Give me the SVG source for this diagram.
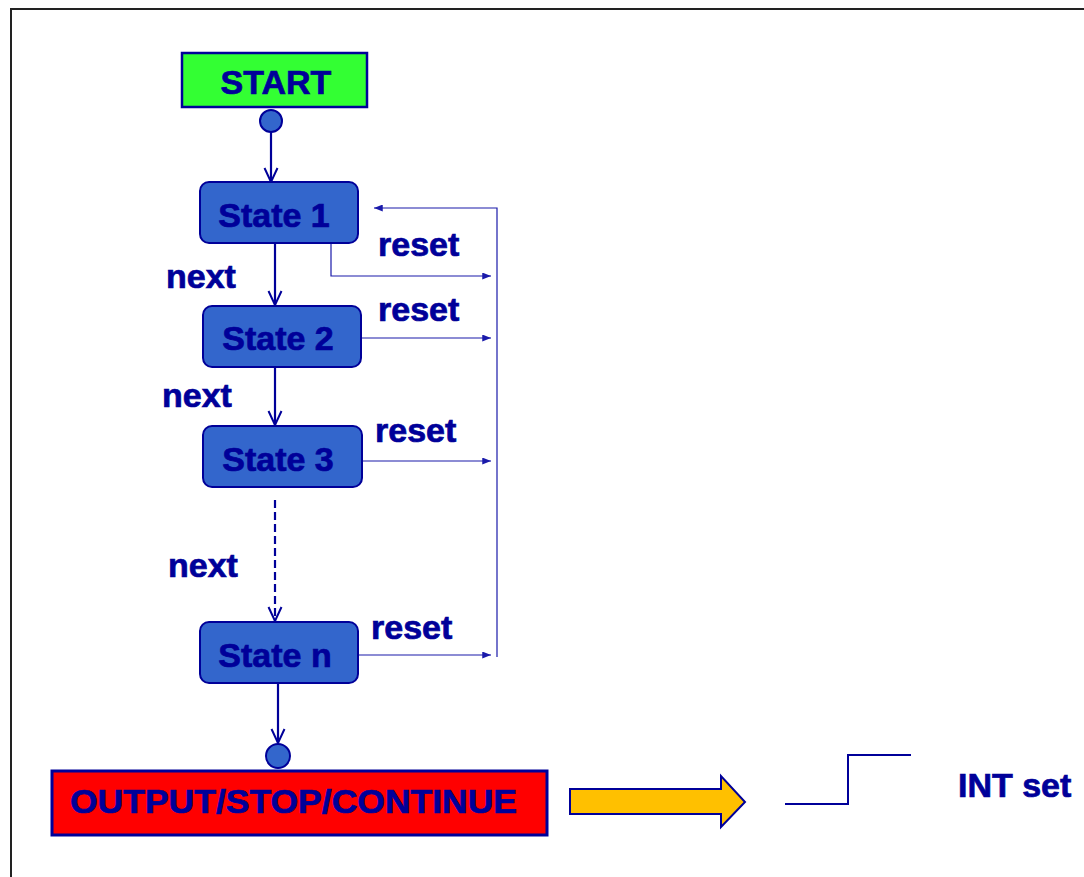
<svg xmlns="http://www.w3.org/2000/svg" width="1084" height="877" viewBox="0 0 1084 877">
<style>
.t{font-family:"Liberation Sans",Arial,sans-serif;font-weight:bold;font-size:34px;fill:#000099;stroke:#000099;stroke-width:0.7}
.state{fill:#3366CC;stroke:#000099;stroke-width:2}
.flow{fill:none;stroke:#000099;stroke-width:2.2}
.reset{fill:none;stroke:#1a1aaa;stroke-width:1.2}
</style>
<defs>
<marker id="vopen" viewBox="0 0 16 16" refX="15" refY="8" markerWidth="16" markerHeight="16" markerUnits="userSpaceOnUse" orient="auto">
<path d="M1,1.5 L15,8 L1,14.5" fill="none" stroke="#000099" stroke-width="2"/>
</marker>
<marker id="tri" viewBox="0 0 10 8" refX="10" refY="4" markerWidth="9" markerHeight="7" markerUnits="userSpaceOnUse" orient="auto">
<path d="M0,0 L10,4 L0,8 Z" fill="#1a1aaa"/>
</marker>
</defs>
<rect width="1084" height="877" fill="#ffffff"/>
<rect x="11" y="9" width="1090" height="900" fill="none" stroke="#222222" stroke-width="2"/>

<g id="connectors">
<line class="flow" x1="271" y1="121" x2="271" y2="182" marker-end="url(#vopen)"/>
<line class="flow" x1="275" y1="243" x2="275" y2="305" marker-end="url(#vopen)"/>
<line class="flow" x1="275" y1="367" x2="275" y2="425" marker-end="url(#vopen)"/>
<line class="flow" x1="275" y1="500" x2="275" y2="621" stroke-dasharray="8,4" marker-end="url(#vopen)"/>
<line class="flow" x1="278" y1="683" x2="278" y2="743" marker-end="url(#vopen)"/>
<polyline class="reset" points="331,243 331,276 491,276" marker-end="url(#tri)"/>
<line class="reset" x1="361" y1="338" x2="491" y2="338" marker-end="url(#tri)"/>
<line class="reset" x1="362" y1="461" x2="491" y2="461" marker-end="url(#tri)"/>
<line class="reset" x1="358" y1="655" x2="491" y2="655" marker-end="url(#tri)"/>
<polyline class="reset" points="497,657 497,208 374,208" marker-end="url(#tri)"/>
</g>

<g id="start">
<rect x="182" y="53" width="185" height="54" fill="#33FF33" stroke="#000099" stroke-width="2.5"/>
<text class="t" x="276" y="94" text-anchor="middle">START</text>
</g>
<g id="start-dot"><circle cx="271" cy="121" r="11" class="state"/></g>

<g id="state1">
<rect class="state" x="200" y="182" width="158" height="61" rx="9"/>
<text class="t" x="274" y="227" text-anchor="middle">State 1</text>
</g>
<g id="state2">
<rect class="state" x="203" y="306" width="158" height="61" rx="9"/>
<text class="t" x="278" y="350" text-anchor="middle">State 2</text>
</g>
<g id="state3">
<rect class="state" x="203" y="426" width="159" height="61" rx="9"/>
<text class="t" x="278" y="471" text-anchor="middle">State 3</text>
</g>
<g id="staten">
<rect class="state" x="200" y="622" width="158" height="61" rx="9"/>
<text class="t" x="275" y="667" text-anchor="middle">State n</text>
</g>
<g id="end-dot"><circle cx="278" cy="756" r="12" class="state"/></g>

<g id="output">
<rect x="52" y="771" width="495" height="64" fill="#FF0000" stroke="#000099" stroke-width="3"/>
<text class="t" x="70" y="813" textLength="447" lengthAdjust="spacingAndGlyphs">OUTPUT/STOP/CONTINUE</text>
</g>

<g id="labels">
<text class="t" x="166" y="288">next</text>
<text class="t" x="162" y="407">next</text>
<text class="t" x="168" y="577">next</text>
<text class="t" x="378" y="256">reset</text>
<text class="t" x="378" y="321">reset</text>
<text class="t" x="375" y="442">reset</text>
<text class="t" x="371" y="639">reset</text>
</g>

<g id="big-arrow">
<polygon points="570,789 721,789 721,776 745,802 721,827 721,814 570,814" fill="#FFC000" stroke="#000099" stroke-width="2"/>
</g>
<g id="int-signal">
<polyline points="785,804 848,804 848,755 911,755" fill="none" stroke="#000099" stroke-width="2"/>
<text class="t" x="958" y="797">INT set</text>
</g>
</svg>
